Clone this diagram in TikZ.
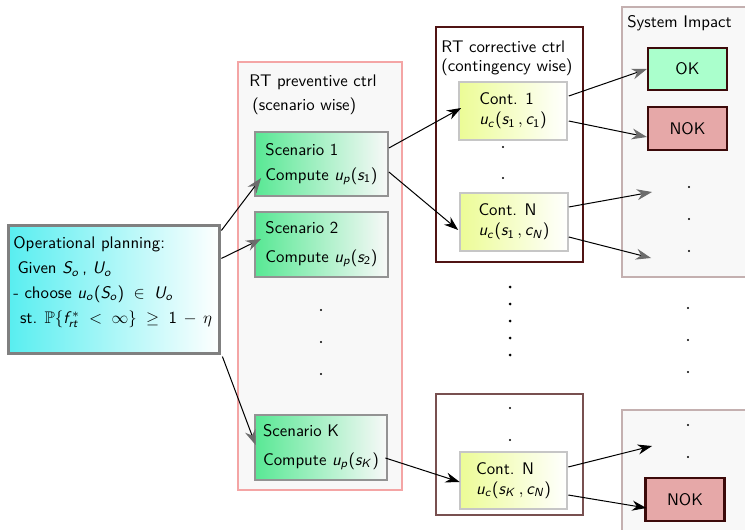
\documentclass[tikz,border=0pt]{standalone}
\usepackage{amsmath}
\usepackage{amssymb}
\usetikzlibrary{arrows.meta,calc}
\renewcommand{\familydefault}{\sfdefault}

\DeclareSymbolFont{sfletters}{OT1}{cmss}{m}{sl}
\SetSymbolFont{operators}{normal}{OT1}{cmss}{m}{n}
\DeclareMathSymbol{c}{\mathalpha}{sfletters}{`c}
\DeclareMathSymbol{f}{\mathalpha}{sfletters}{`f}
\DeclareMathSymbol{o}{\mathalpha}{sfletters}{`o}
\DeclareMathSymbol{p}{\mathalpha}{sfletters}{`p}
\DeclareMathSymbol{r}{\mathalpha}{sfletters}{`r}
\DeclareMathSymbol{s}{\mathalpha}{sfletters}{`s}
\DeclareMathSymbol{t}{\mathalpha}{sfletters}{`t}
\DeclareMathSymbol{u}{\mathalpha}{sfletters}{`u}
\DeclareMathSymbol{K}{\mathalpha}{sfletters}{`K}
\DeclareMathSymbol{N}{\mathalpha}{sfletters}{`N}
\DeclareMathSymbol{S}{\mathalpha}{sfletters}{`S}
\DeclareMathSymbol{U}{\mathalpha}{sfletters}{`U}

\definecolor{plancyan}{RGB}{88,238,240}
\definecolor{scengreen}{RGB}{88,232,148}
\definecolor{contyellow}{RGB}{236,252,150}
\definecolor{okgreen}{RGB}{170,255,204}
\definecolor{nokred}{RGB}{230,168,168}
\definecolor{boxedge}{RGB}{60,10,10}
\definecolor{prevedge}{RGB}{244,165,165}
\definecolor{corredge}{RGB}{80,20,20}
\definecolor{corredgeb}{RGB}{120,80,80}
\definecolor{impactedge}{RGB}{196,176,176}
\definecolor{panelfill}{RGB}{248,248,248}

\begin{document}
\begin{tikzpicture}[x=0.595pt, y=-0.595pt,
  every node/.style={font=\sffamily},
  title/.style={anchor=west, inner sep=0pt},
  planbox/.style={draw=gray, line width=1.8pt, left color=plancyan, right color=white,
    minimum width=126pt, minimum height=75.6pt},
  scenbox/.style={draw=gray!85, line width=1.2pt, left color=scengreen, right color=white!95!gray,
    minimum width=79pt, minimum height=38.5pt, align=left},
  contbox/.style={draw=gray!45, line width=1.2pt, left color=contyellow, right color=white,
    minimum width=64pt, minimum height=34pt, align=left},
  okbox/.style={draw=boxedge, line width=1.3pt, fill=okgreen, minimum width=47pt, minimum height=25pt},
  nokbox/.style={okbox, fill=nokred, minimum height=25.5pt},
  flow/.style={line width=0.6pt, -{Stealth[length=8.5pt,width=6pt]}},
  grayflow/.style={line width=0.6pt, -{Stealth[length=9pt,width=6.5pt,color=gray!85!black]}}
]
  \clip (0,0) rectangle (745,529);

  \draw[prevedge, line width=1.2pt, fill=panelfill] (238,62) rectangle (402,490);
  \draw[corredge, line width=0.9pt, fill=white] (436,27) rectangle (583,262);
  \draw[corredgeb, line width=0.9pt, fill=white] (436,394) rectangle (583,515);
  \draw[impactedge, line width=1.2pt, fill=panelfill] (622,7) rectangle (760,277);
  \draw[impactedge, line width=1.2pt, fill=panelfill] (622,410) rectangle (760,540);

  \draw (249,82) node[title] (prevtitle) {RT preventive ctrl};
  \draw (252,106) node[title] (prevsub) {(scenario wise)};
  \draw (441,47) node[title] (corrtitle) {RT corrective ctrl};
  \draw (441,67) node[title] (corrsub) {(contingency wise)};
  \draw (627,23) node[title] (impacttitle) {System Impact};

  \draw (114,289.5) node[planbox] (plan) {};
  \draw (13,282) node[align=left, anchor=west, inner sep=0pt] (plantext) {Operational planning:\\[3pt]
    \hspace{2.5pt}Given $S_o\,$, $U_o$\\[2.5pt]
    - choose $u_o(S_o) \;\in\; U_o$\\[3pt]
    \hspace{4pt}st. $\mathbb{P}\{f^*_{rt} \;<\; \infty\} \;\geq\; 1 \,-\, \eta$};

  \draw (321.5,164) node[scenbox] (sc1) {Scenario 1\\[3pt]Compute $u_p(s_1)$};
  \draw (321.5,244.5) node[scenbox] (sc2) {Scenario 2\\[5pt]Compute $u_p(s_2)$};
  \draw (321,447.5) node[scenbox] (scK) {Scenario K\\[5pt]Compute $u_p(s_K)$};

  \draw (513,111) node[contbox] (c1) {Cont. 1\\$u_c(s_1\,, c_1)$};
  \draw (514,222) node[contbox] (cN) {Cont. N\\$u_c(s_1\,, c_N)$};
  \draw (513.5,480.5) node[contbox] (cNK) {Cont. N\\$u_c(s_K\,, c_N)$};

  \draw (687.5,69) node[okbox] (ok) {OK};
  \draw (687.5,128.5) node[nokbox] (nok) {NOK};
  \draw (685,499.5) node[nokbox] (nokK) {NOK};

  \foreach \y in {310, 342, 374} {
    \fill (321,\y) circle (1.2);
  }
  \foreach \y in {147, 178} {
    \fill (503,\y) circle (1.2);
  }
  \foreach \y in {287, 304, ..., 356} {
    \fill (510,\y) circle (1.5);
  }
  \foreach \y in {408, 440} {
    \fill (510,\y) circle (1.2);
  }
  \foreach \y in {187, 219, 251} {
    \fill (689,\y) circle (1.2);
  }
  \foreach \y in {308, 340, 372} {
    \fill (688,\y) circle (1.2);
  }
  \foreach \y in {425, 457} {
    \fill (688,\y) circle (1.2);
  }

  \coordinate (outA) at (652,192);
  \coordinate (outB) at (651,258);
  \coordinate (outC) at (652,446);

  \draw[grayflow] ($(plan.north east)+(0,6)$) -- ($(sc1.west)+(7,14)$);
  \draw[grayflow] ($(plan.north east)+(0,34)$) -- ($(sc2.west)+(7,-5.5)$);
  \draw[grayflow] ($(plan.south east)+(1,2)$) -- ($(scK.west)+(2,-2.5)$);

  \draw[flow] ($(sc1.east)+(0,-16)$) -- ($(c1.west)+(3,-3)$);
  \draw[flow] ($(sc1.east)+(0,8)$) -- ($(cN.west)+(-1,8)$);
  \draw[flow] ($(scK.east)+(-3,10.5)$) -- ($(cNK.west)+(1,1.5)$);

  \draw[grayflow] ($(c1.east)+(1,-15)$) -- (ok.west);
  \draw[grayflow] ($(c1.east)+(1,10)$) -- ($(nok.west)+(0,8.5)$);
  \draw[grayflow] ($(cN.east)+(0,-15)$) -- (outA);
  \draw[grayflow] ($(cN.east)+(0,15)$) -- (outB);
  \draw[flow] ($(cNK.east)+(0,-13.5)$) -- (outC);
  \draw[flow] ($(cNK.east)+(0,14.5)$) -- ($(nokK.west)+(2,8.5)$);

\end{tikzpicture}
\end{document}
